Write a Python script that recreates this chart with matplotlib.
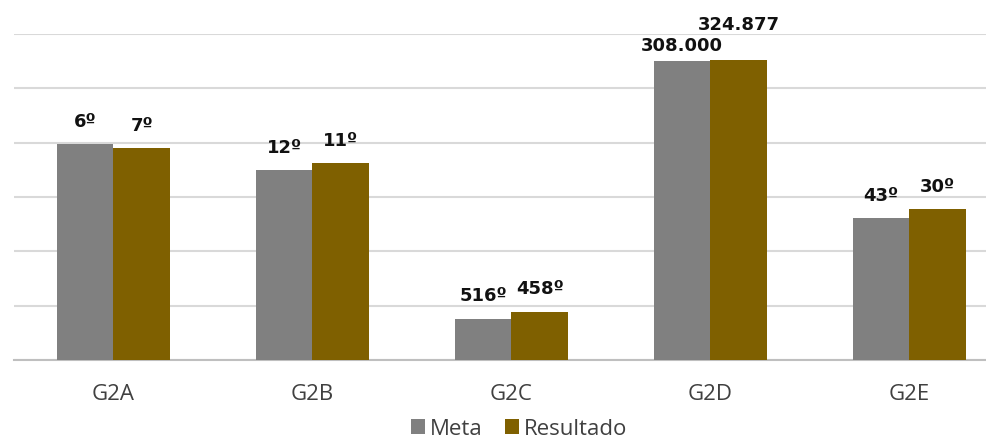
import numpy as np
import matplotlib.pyplot as plt

plt.rcParams['font.family'] = ['Open Sans', 'DejaVu Sans']

categories = ["G2A", "G2B", "G2C", "G2D", "G2E"]
meta = [3.97, 3.49, 0.76, 5.50, 2.61]
resultado = [3.90, 3.62, 0.89, 5.53, 2.78]
meta_labels = ["6º", "12º", "516º", "308.000", "43º"]
resultado_labels = ["7º", "11º", "458º", "324.877", "30º"]

fig = plt.figure(figsize=(9.87, 4.4), dpi=100)
# plot area runs a little past the right edge, as in the original crop
ax = fig.add_axes([14 / 987, 80 / 440, 973 / 987, 326 / 440])

x = np.arange(len(categories))
w = 0.284
b1 = ax.bar(x - w / 2, meta, w, color="#808080", label="Meta", zorder=3)
b2 = ax.bar(x + w / 2, resultado, w, color="#7F6000", label="Resultado", zorder=3)

for bars, labels in ((b1, meta_labels), (b2, resultado_labels)):
    for rect, lab in zip(bars, labels):
        ax.annotate(lab, (rect.get_x() + rect.get_width() / 2, rect.get_height()),
                    xytext=(0, 12.5), textcoords="offset points", ha="center", va="baseline",
                    fontsize=13, fontweight="bold", color="#111111", family="DejaVu Sans",
                    annotation_clip=False)

# G2D labels are shifted so they do not collide
ax.texts[3].set_position((0, 7))
ax.texts[-2].set_position((0, 21.5))

ax.set_xlim(-0.5, -0.5 + 973 / 199)
ax.set_ylim(0, 6)
ax.set_yticks(np.arange(0, 7))
ax.yaxis.grid(True, color="#D9D9D9", linewidth=1.5, zorder=0)
ax.tick_params(axis="y", left=False, labelleft=False)
ax.tick_params(axis="x", length=0, pad=17, labelsize=16, labelcolor="#404040")
ax.set_xticks(x)
ax.set_xticklabels(categories)
for s in ("top", "right", "left"):
    ax.spines[s].set_visible(False)
ax.spines["bottom"].set_color("#BFBFBF")
ax.spines["bottom"].set_linewidth(1.5)

fig.legend(loc="center", bbox_to_anchor=(519 / 987, 11 / 440), ncol=2, frameon=False,
           fontsize=16, handlelength=0.65, handleheight=0.65, handletextpad=0.2,
           columnspacing=1.0, labelcolor="#404040", borderpad=0)

plt.savefig("out.png", dpi=100)
